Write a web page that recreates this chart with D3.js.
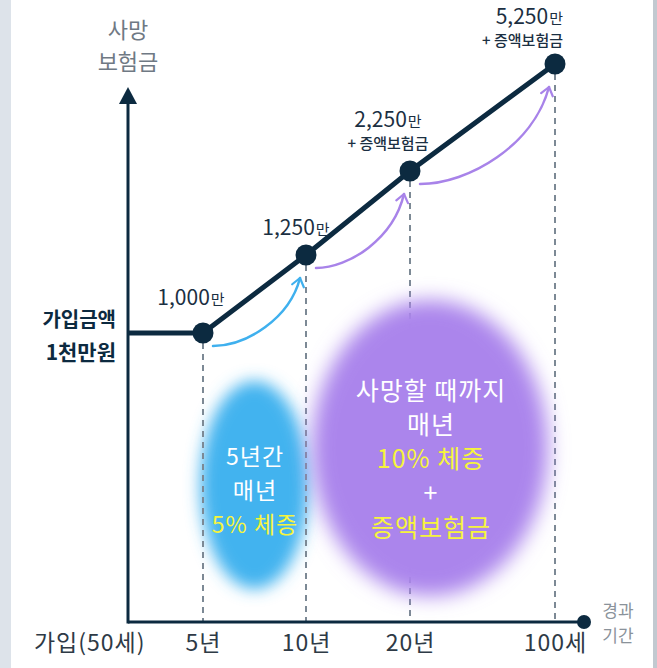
<!DOCTYPE html>
<html>
<head>
<meta charset="utf-8">
<script src="https://cdn.jsdelivr.net/npm/d3@7"></script>
<style>
  html, body { margin: 0; padding: 0; background: #fff; }
  svg { display: block; font-family: "Noto Sans CJK KR", "Noto Sans", sans-serif; }
</style>
</head>
<body>
<svg width="657" height="668"></svg>
<script>
// stages on the x axis
const stages = ["가입(50세)", "5년", "10년", "20년", "100세"];
const years = [0, 5, 10, 20, 50];
// insured amount (만원)
const amounts = [1000, 1000, 1250, 2250, 5250];
const hasBonus = [false, false, false, true, true];

const width = 657;
const height = 668;
const axisY = 622;
const axisX = 128;

// schematic (piecewise) scales, the picture is not to scale
const x = d3.scaleLinear()
    .domain(years)
    .range([axisX, 203, 306, 410, 555]);

const y = d3.scaleLinear()
    .domain([1000, 1250, 2250, 5250])
    .range([333, 255, 171, 64]);

const navy = "#0c2a40";

const svg = d3.select("svg")
    .attr("viewBox", [0, 0, width, height]);

const defs = svg.append("defs");
defs.append("filter").attr("id", "blurBlue")
    .attr("x", "-50%").attr("y", "-50%").attr("width", "200%").attr("height", "200%")
  .append("feGaussianBlur").attr("stdDeviation", 8);
defs.append("filter").attr("id", "blurPurple")
    .attr("x", "-50%").attr("y", "-50%").attr("width", "200%").attr("height", "200%")
  .append("feGaussianBlur").attr("stdDeviation", 10);

["blue", "purple"].forEach(c => {
  defs.append("marker")
      .attr("id", "head-" + c)
      .attr("viewBox", "-10 -7 12 14")
      .attr("markerWidth", 12).attr("markerHeight", 14)
      .attr("markerUnits", "userSpaceOnUse")
      .attr("orient", "auto")
    .append("path")
      .attr("d", "M-8,-6L0,0L-8,6")
      .attr("fill", "none")
      .attr("stroke", c == "blue" ? "#3fb0ee" : "#a883e9")
      .attr("stroke-width", 2.2)
      .attr("stroke-linecap", "round")
      .attr("stroke-linejoin", "round");
});

// page edges
svg.append("rect").attr("x", 0).attr("y", 0).attr("width", 11).attr("height", height).attr("fill", "#dde3ea");
svg.append("rect").attr("x", 653).attr("y", 0).attr("width", 4).attr("height", height).attr("fill", "#c2c9d0");

// blue blob (5 years)
svg.append("ellipse")
    .attr("cx", (x(5) + x(10)) / 2)
    .attr("cy", 485)
    .attr("rx", 54).attr("ry", 104)
    .attr("fill", "#42b3ef")
    .attr("filter", "url(#blurBlue)");

// dashed guides
svg.append("g")
  .selectAll("line")
  .data(years.slice(1))
  .join("line")
    .attr("x1", d => x(d)).attr("x2", d => x(d))
    .attr("y1", (d, i) => y(amounts[i + 1]) + 10)
    .attr("y2", axisY)
    .attr("stroke", "#7c8995")
    .attr("stroke-width", 2)
    .attr("stroke-dasharray", "6,5");

// purple blob (till death)
svg.append("ellipse")
    .attr("cx", 430)
    .attr("cy", 448)
    .attr("rx", 118).attr("ry", 148)
    .attr("fill", "#ab85ec")
    .attr("filter", "url(#blurPurple)");

// axes
svg.append("line")
    .attr("x1", axisX).attr("x2", axisX)
    .attr("y1", axisY + 1.5).attr("y2", 102)
    .attr("stroke", navy).attr("stroke-width", 3);
svg.append("path")
    .attr("d", `M${axisX},87L${axisX + 9},104L${axisX - 9},104Z`)
    .attr("fill", navy);
svg.append("line")
    .attr("x1", axisX).attr("x2", 584)
    .attr("y1", axisY).attr("y2", axisY)
    .attr("stroke", navy).attr("stroke-width", 3);
svg.append("circle")
    .attr("cx", 584).attr("cy", axisY).attr("r", 7)
    .attr("fill", navy);

const gx = svg.append("g")
    .attr("transform", `translate(0,${axisY})`)
    .call(d3.axisBottom(x).tickValues(years).tickFormat((d, i) => stages[i]).tickSize(0).tickPadding(13))
    .call(g => g.select(".domain").remove());
gx.selectAll("text")
    .attr("font-family", "'Noto Sans CJK KR', sans-serif")
    .attr("font-size", 23)
    .attr("letter-spacing", 1)
    .attr("fill", "#2e3a46");
gx.select(".tick text")
    .attr("text-anchor", "end")
    .attr("x", 17);

// axis titles
svg.append("text")
    .attr("text-anchor", "middle")
    .attr("fill", "#6f7984")
    .attr("font-size", 22)
  .selectAll("tspan")
  .data(["사망", "보험금"])
  .join("tspan")
    .attr("x", axisX)
    .attr("y", (d, i) => 38 + i * 32)
    .text(d => d);

svg.append("text")
    .attr("text-anchor", "middle")
    .attr("fill", "#8a929a")
    .attr("font-size", 17)
  .selectAll("tspan")
  .data(["경과", "기간"])
  .join("tspan")
    .attr("x", 618)
    .attr("y", (d, i) => 617 + i * 25)
    .text(d => d);

svg.append("text")
    .attr("text-anchor", "end")
    .attr("fill", navy)
    .attr("font-weight", 700)
  .selectAll("tspan")
  .data(["가입금액", "1천만원"])
  .join("tspan")
    .attr("x", 116)
    .attr("y", (d, i) => 327 + i * 33)
    .attr("font-size", (d, i) => i ? 21 : 20)
    .text(d => d);

// curved growth arrows
const arrows = [
  { from: 1, to: 2, c: "blue" },
  { from: 2, to: 3, c: "purple" },
  { from: 3, to: 4, c: "purple" }
];
svg.append("g")
  .selectAll("path")
  .data(arrows)
  .join("path")
    .attr("d", a => {
      const x0 = x(years[a.from]) + 10, y0 = y(amounts[a.from]) + 13;
      const x1 = x(years[a.to]) - 6, y1 = y(amounts[a.to]) + 23;
      const dx = x1 - x0, dy = y1 - y0;
      return `M${x0},${y0}C${x0 + dx * 0.38},${y0} ${x0 + dx * 0.88},${y0 + dy * 0.4} ${x1},${y1}`;
    })
    .attr("fill", "none")
    .attr("stroke", a => a.c == "blue" ? "#3fb0ee" : "#a883e9")
    .attr("stroke-width", 2.5)
    .attr("stroke-linecap", "round")
    .attr("marker-end", a => `url(#head-${a.c})`);

// main line
const line = d3.line()
    .x((d, i) => x(years[i]))
    .y(d => y(d));
svg.append("path")
    .datum(amounts)
    .attr("d", line)
    .attr("fill", "none")
    .attr("stroke", navy)
    .attr("stroke-width", 5)
    .attr("stroke-linejoin", "round");

svg.append("g")
  .selectAll("circle")
  .data(amounts.slice(1))
  .join("circle")
    .attr("cx", (d, i) => x(years[i + 1]))
    .attr("cy", d => y(d))
    .attr("r", 10.5)
    .attr("fill", navy);

// value labels
const labelPos = [null, { dx: -12, dy: -28, a: "middle" }, { dx: -10, dy: -20, a: "middle" },
                  { dx: -22, dy: -44, a: "middle" }, { dx: 8, dy: -40, a: "end" }];
const fmt = d3.format(",");
amounts.forEach((v, i) => {
  if (!labelPos[i]) return;
  const p = labelPos[i];
  const lx = x(years[i]) + p.dx, ly = y(v) + p.dy;
  const t = svg.append("text")
      .attr("x", lx).attr("y", ly)
      .attr("text-anchor", p.a)
      .attr("fill", "#1b2f42");
  t.append("tspan").attr("font-size", 21).text(fmt(v));
  t.append("tspan").attr("font-size", 15).attr("dx", 1).text("만");
  if (hasBonus[i]) {
    svg.append("text")
        .attr("x", lx).attr("y", ly + 22)
        .attr("text-anchor", p.a)
        .attr("font-size", 15)
        .attr("font-weight", 500)
        .attr("fill", "#1b2f42")
        .text("+ 증액보험금");
  }
});

// blob texts
const blueText = [["5년간", "#ffffff"], ["매년", "#ffffff"], ["5% 체증", "#f6f43c"]];
const purpleText = [["사망할 때까지", "#ffffff"], ["매년", "#ffffff"], ["10% 체증", "#f6f43c"], ["+", "#ffffff"], ["증액보험금", "#f6f43c"]];

svg.append("g")
    .attr("text-anchor", "middle")
    .attr("font-size", 23)
    .attr("letter-spacing", 1)
  .selectAll("text")
  .data(blueText)
  .join("text")
    .attr("x", 255)
    .attr("y", (d, i) => 465 + i * 34)
    .attr("fill", d => d[1])
    .text(d => d[0]);

svg.append("g")
    .attr("text-anchor", "middle")
    .attr("font-size", 25)
    .attr("letter-spacing", 1)
  .selectAll("text")
  .data(purpleText)
  .join("text")
    .attr("x", 431)
    .attr("y", (d, i) => [400, 434, 468, 502, 537][i])
    .attr("fill", d => d[1])
    .text(d => d[0]);
</script>
</body>
</html>
